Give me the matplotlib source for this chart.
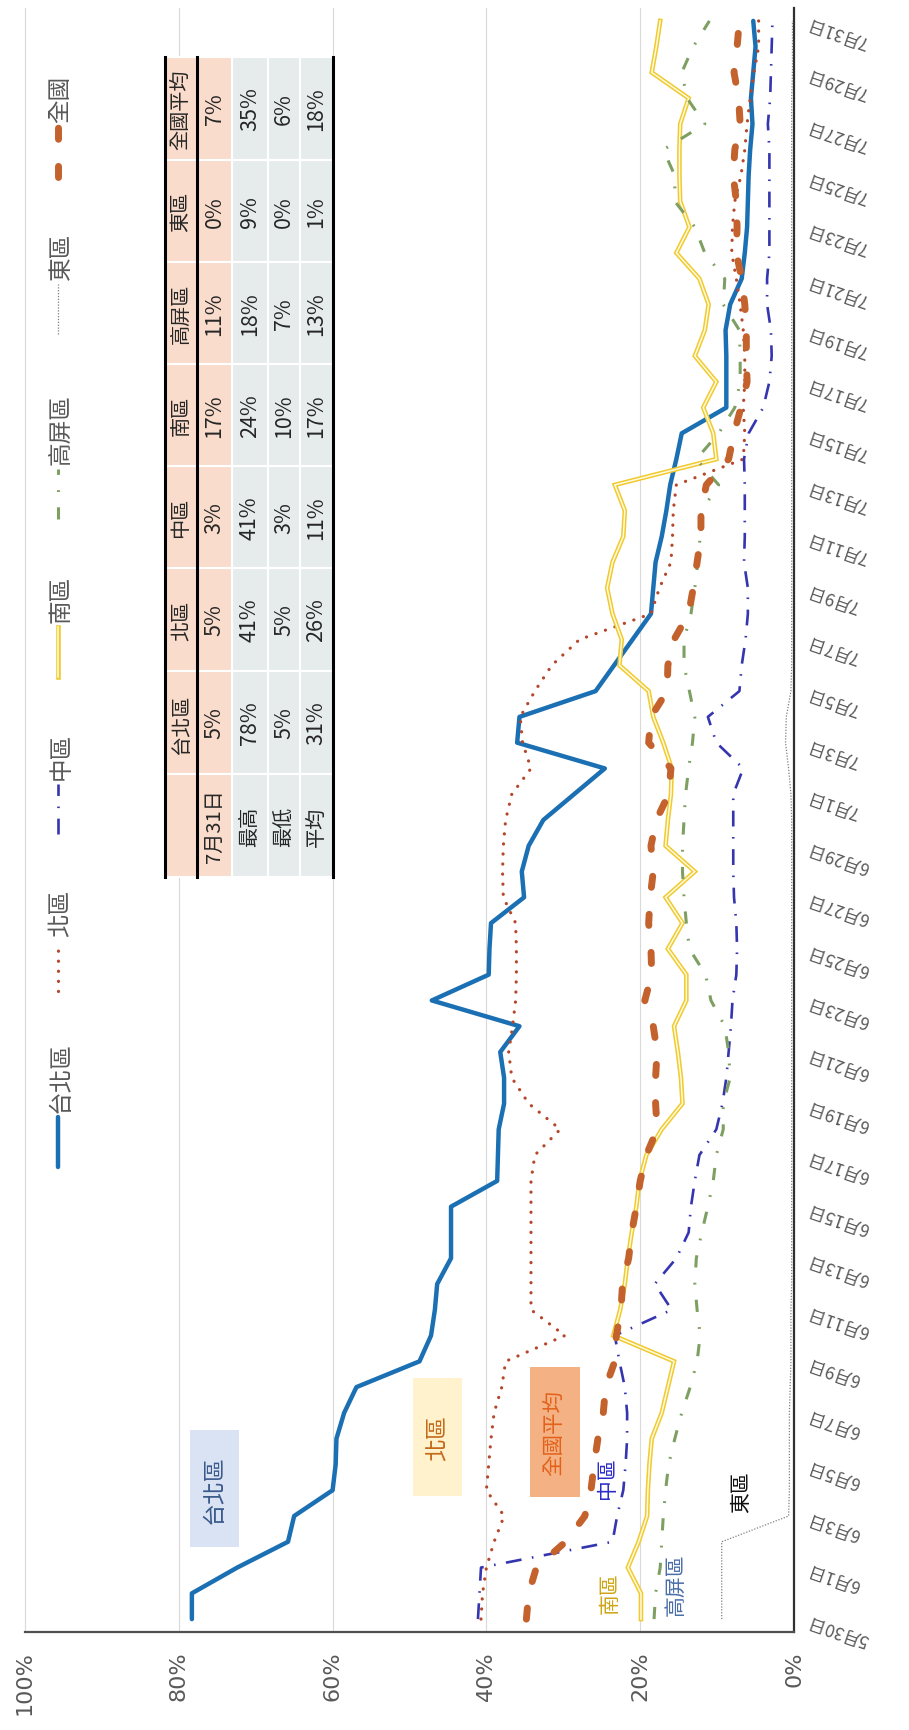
import numpy as np
import pandas as pd
import matplotlib
matplotlib.use('Agg')
import matplotlib.pyplot as plt
from matplotlib.patches import Rectangle
from matplotlib.lines import Line2D

plt.rcParams['font.family'] = ['Noto Sans CJK TC', 'DejaVu Sans']

# ---------------- data ----------------
DATES = pd.date_range('2020-05-30', '2020-07-31', freq='D')
DATE_TICK_LABELS = ['5月30日', '6月1日', '6月3日', '6月5日', '6月7日', '6月9日', '6月11日',
                    '6月13日', '6月15日', '6月17日', '6月19日', '6月21日', '6月23日',
                    '6月25日', '6月27日', '6月29日', '7月1日', '7月3日', '7月5日', '7月7日',
                    '7月9日', '7月11日', '7月13日', '7月15日', '7月17日', '7月19日',
                    '7月21日', '7月23日', '7月25日', '7月27日', '7月29日', '7月31日']
VALUE_TICKS = [0.0, 0.2, 0.4, 0.6, 0.8, 1.0]
VALUE_TICK_LABELS = ['0%', '20%', '40%', '60%', '80%', '100%']

SERIES_NAMES = ['台北區', '北區', '中區', '南區', '高屏區', '東區', '全國']

TAIPEI = [0.783, 0.783, 0.724, 0.658, 0.650, 0.600, 0.596, 0.595, 0.585, 0.569,
          0.487, 0.472, 0.467, 0.464, 0.446, 0.446, 0.446, 0.386, 0.385, 0.384,
          0.377, 0.377, 0.382, 0.357, 0.471, 0.397, 0.396, 0.394, 0.351, 0.354,
          0.345, 0.326, 0.286, 0.246, 0.360, 0.357, 0.258, 0.234, 0.210, 0.186,
          0.183, 0.180, 0.172, 0.166, 0.161, 0.153, 0.146, 0.088, 0.088, 0.088,
          0.089, 0.083, 0.068, 0.064, 0.061, 0.060, 0.059, 0.057, 0.054, 0.056,
          0.053, 0.050, 0.053]
NORTH = [0.407, 0.405, 0.400, 0.390, 0.377, 0.400, 0.397, 0.394, 0.390, 0.380,
         0.375, 0.298, 0.342, 0.342, 0.342, 0.342, 0.342, 0.342, 0.337, 0.304,
         0.345, 0.367, 0.371, 0.366, 0.362, 0.361, 0.361, 0.362, 0.378, 0.379,
         0.378, 0.375, 0.367, 0.342, 0.353, 0.356, 0.337, 0.315, 0.279, 0.186,
         0.175, 0.160, 0.158, 0.157, 0.153, 0.066, 0.064, 0.066, 0.064, 0.064,
         0.066, 0.070, 0.075, 0.081, 0.080, 0.077, 0.069, 0.064, 0.061, 0.057,
         0.052, 0.046, 0.046]
CENTRAL = [0.411, 0.409, 0.407, 0.236, 0.230, 0.222, 0.219, 0.217, 0.217, 0.220,
           0.227, 0.233, 0.159, 0.181, 0.153, 0.137, 0.134, 0.129, 0.123, 0.101,
           0.093, 0.088, 0.085, 0.082, 0.080, 0.075, 0.074, 0.075, 0.078, 0.079,
           0.079, 0.079, 0.079, 0.066, 0.101, 0.112, 0.071, 0.068, 0.063, 0.060,
           0.060, 0.065, 0.064, 0.064, 0.064, 0.065, 0.059, 0.040, 0.032, 0.029,
           0.030, 0.035, 0.035, 0.032, 0.032, 0.032, 0.032, 0.032, 0.034, 0.031,
           0.030, 0.029, 0.028]
SOUTH = [0.199, 0.199, 0.216, 0.202, 0.191, 0.190, 0.188, 0.185, 0.172, 0.164,
         0.156, 0.235, 0.226, 0.220, 0.216, 0.211, 0.205, 0.201, 0.192, 0.172,
         0.145, 0.147, 0.151, 0.156, 0.140, 0.140, 0.164, 0.145, 0.167, 0.129,
         0.167, 0.164, 0.160, 0.159, 0.170, 0.183, 0.189, 0.227, 0.224, 0.236,
         0.243, 0.236, 0.222, 0.220, 0.233, 0.101, 0.105, 0.118, 0.101, 0.129,
         0.116, 0.111, 0.123, 0.153, 0.136, 0.148, 0.149, 0.149, 0.148, 0.137,
         0.185, 0.179, 0.174]
KAOPING = [0.182, 0.180, 0.174, 0.172, 0.170, 0.167, 0.163, 0.155, 0.146, 0.135,
           0.126, 0.122, 0.126, 0.129, 0.127, 0.120, 0.112, 0.105, 0.101, 0.092,
           0.092, 0.083, 0.085, 0.090, 0.108, 0.115, 0.136, 0.140, 0.143, 0.145,
           0.145, 0.143, 0.141, 0.137, 0.132, 0.129, 0.136, 0.143, 0.143, 0.134,
           0.129, 0.125, 0.122, 0.120, 0.098, 0.127, 0.098, 0.077, 0.070, 0.070,
           0.071, 0.092, 0.090, 0.116, 0.129, 0.155, 0.155, 0.170, 0.116, 0.139,
           0.146, 0.131, 0.110]
EAST = [0.094, 0.094, 0.094, 0.094, 0.007, 0.006, 0.006, 0.006, 0.006, 0.005,
        0.004, 0.004, 0.004, 0.003, 0.003, 0.003, 0.003, 0.003, 0.003, 0.003,
        0.003, 0.003, 0.003, 0.003, 0.003, 0.003, 0.003, 0.003, 0.003, 0.003,
        0.003, 0.003, 0.004, 0.007, 0.011, 0.010, 0.004, 0.003, 0.003, 0.003,
        0.003, 0.003, 0.003, 0.003, 0.003, 0.003, 0.003, 0.003, 0.003, 0.003,
        0.003, 0.003, 0.003, 0.003, 0.003, 0.003, 0.003, 0.003, 0.003, 0.003,
        0.002, 0.002, 0.002]
NATIONAL = [0.348, 0.345, 0.335, 0.297, 0.272, 0.264, 0.260, 0.255, 0.248, 0.245,
            0.233, 0.231, 0.225, 0.223, 0.215, 0.211, 0.205, 0.200, 0.192, 0.178,
            0.180, 0.180, 0.178, 0.183, 0.194, 0.185, 0.186, 0.189, 0.187, 0.183,
            0.186, 0.179, 0.163, 0.160, 0.189, 0.186, 0.165, 0.164, 0.156, 0.137,
            0.131, 0.126, 0.121, 0.121, 0.114, 0.085, 0.078, 0.069, 0.061, 0.062,
            0.062, 0.064, 0.068, 0.075, 0.074, 0.075, 0.079, 0.077, 0.070, 0.072,
            0.078, 0.074, 0.071]

TABLE_COLS = ['台北區', '北區', '中區', '南區', '高屏區', '東區', '全國平均']
TABLE_ROWS = ['7月31日', '最高', '最低', '平均']
TABLE_VALUES = [['5%', '5%', '3%', '17%', '11%', '0%', '7%'],
                ['78%', '41%', '41%', '24%', '18%', '9%', '35%'],
                ['5%', '5%', '3%', '10%', '7%', '0%', '6%'],
                ['31%', '26%', '11%', '17%', '13%', '1%', '18%']]

# ---------------- figure ----------------
W, H = 909, 1731
fig = plt.figure(figsize=(W / 100, H / 100), dpi=100)
fig.patch.set_facecolor('white')


def fx(x):
    return x / W


def fy(y):
    return 1 - y / H


AX_L, AX_R, AX_T, AX_B = 25, 794, 9, 1633
ax = fig.add_axes([fx(AX_L), fy(AX_B), (AX_R - AX_L) / W, (AX_B - AX_T) / H])
days = np.asarray((DATES - DATES[0]).days)
ax.set_xlim(1.0, 0.0)
ax.set_ylim(-0.5, len(DATES) - 0.5)

for v in VALUE_TICKS[1:-1]:
    ax.axvline(v, color='#D9D9D9', lw=0.8, zorder=0)

ax.spines['top'].set_visible(False)
ax.spines['left'].set_color('#D9D9D9')
ax.spines['left'].set_linewidth(0.8)
ax.spines['bottom'].set_color('#505050')
ax.spines['bottom'].set_linewidth(1.6)
ax.spines['right'].set_color('#303030')
ax.spines['right'].set_linewidth(1.6)

ax.set_xticks(VALUE_TICKS)
ax.set_xticklabels(VALUE_TICK_LABELS, rotation=90, fontsize=16, color='#595959',
                   family=['DejaVu Sans'])
ax.tick_params(axis='x', length=0, pad=13)

ax.yaxis.tick_right()
ax.set_yticks(days[::2])
ax.set_yticklabels(DATE_TICK_LABELS, rotation=161, rotation_mode='anchor',
                   ha='right', va='center', fontsize=12.5, color='#595959')
ax.tick_params(axis='y', length=0, pad=10)

# series styles
C_TAIPEI = '#1B6FB3'
C_NORTH = '#B5472B'
C_CENTRAL = '#3535B0'
C_SOUTH = '#F0CA2E'
C_SOUTH_IN = '#FFFBE3'
C_KAOPING = '#7E9F62'
C_EAST = '#7F7F7F'
C_NATIONAL = '#C4622D'

STYLES = [
    dict(color=C_TAIPEI, lw=3.2, solid_joinstyle='round', solid_capstyle='round'),
    dict(color=C_NORTH, lw=2.3, linestyle=(0, (0.05, 3.1)), dash_capstyle='round'),
    dict(color=C_CENTRAL, lw=1.9, linestyle=(0, (6, 4, 0.6, 4))),
    dict(color=C_SOUTH, lw=3.3, solid_joinstyle='miter'),
    dict(color=C_KAOPING, lw=2.2, linestyle=(0, (4, 5, 0.6, 5))),
    dict(color=C_EAST, lw=0.9, linestyle=(0, (1, 1.3))),
    dict(color=C_NATIONAL, lw=5.0, linestyle=(0, (1.6, 3.9)), dash_capstyle='round'),
]
SERIES = [TAIPEI, NORTH, CENTRAL, SOUTH, KAOPING, EAST, NATIONAL]

for i, (vals, st) in enumerate(zip(SERIES, STYLES)):
    ax.plot(vals, days, zorder=3 + i, **st)
    if i == 3:
        ax.plot(vals, days, color=C_SOUTH_IN, lw=1.1, zorder=3 + i,
                solid_joinstyle='miter')

# ---------------- legend (manual, rotated) ----------------
LEG_BOTTOMS = [1168, 992, 835, 678, 520, 335, 178]
LEG_X = 58
for name, st, yb, i in zip(SERIES_NAMES, STYLES, LEG_BOTTOMS, range(7)):
    kw = dict(st)
    kw.pop('solid_joinstyle', None)
    ln = Line2D([fx(LEG_X), fx(LEG_X)], [fy(yb), fy(yb - 50)], transform=fig.transFigure, **kw)
    fig.add_artist(ln)
    if i == 3:
        fig.add_artist(Line2D([fx(LEG_X), fx(LEG_X)], [fy(yb), fy(yb - 50)],
                              transform=fig.transFigure, color=C_SOUTH_IN, lw=1.1))
    fig.text(fx(61), fy(yb - 55), name, rotation=90, rotation_mode='anchor',
             ha='left', va='center', fontsize=17, color='#595959')

# ---------------- table (rotated) ----------------
TX = [165, 197, 232, 268, 300, 333]            # header | 7/31 | 最高 | 最低 | 平均
TY = [878, 775, 672, 569, 467, 365, 263, 161, 58]  # label col, then region cols upward
ROW_BG = ['#F9DCCB', '#F9DCCB', '#E6ECEC', '#E6ECEC', '#E6ECEC']
for r in range(5):
    for c in range(8):
        x0, x1 = TX[r], TX[r + 1]
        y0, y1 = TY[c + 1], TY[c]
        fig.add_artist(Rectangle((fx(x0), fy(y1)), (x1 - x0) / W, (y1 - y0) / H,
                                 transform=fig.transFigure, facecolor=ROW_BG[r],
                                 edgecolor='white', lw=1.5))
for xb in (TX[0], TX[1], TX[-1]):
    fig.add_artist(Line2D([fx(xb), fx(xb)], [fy(TY[0]), fy(TY[-1])],
                          transform=fig.transFigure, color='black', lw=2.2))


def cell_text(r, c, s, fs=15):
    xc = (TX[r] + TX[r + 1]) / 2
    yc = (TY[c] + TY[c + 1]) / 2
    fig.text(fx(xc), fy(yc), s, rotation=90, rotation_mode='anchor',
             ha='center', va='center', fontsize=fs, color='#262626')


for c, name in enumerate(TABLE_COLS):
    cell_text(0, c + 1, name, 14.5)
for r, rname in enumerate(TABLE_ROWS):
    cell_text(r + 1, 0, rname, 14.5)
    for c, val in enumerate(TABLE_VALUES[r]):
        cell_text(r + 1, c + 1, val, 15.5)

# ---------------- annotations ----------------
BOXES = [('台北區', (190, 1431, 239, 1548), '#DAE3F3', '#3A5A8C', 16.5),
         ('北區', (413, 1379, 462, 1497), '#FFF2CC', '#C46A1A', 16.5),
         ('全國平均', (530, 1368, 580, 1498), '#F4B183', '#E2621B', 15.5)]
for s, (x0, y0, x1, y1), fc, tc, fs in BOXES:
    fig.add_artist(Rectangle((fx(x0), fy(y1)), (x1 - x0) / W, (y1 - y0) / H,
                             transform=fig.transFigure, facecolor=fc, edgecolor='none'))
    fig.text(fx((x0 + x1) / 2), fy((y0 + y1) / 2), s, rotation=90, rotation_mode='anchor',
             ha='center', va='center', fontsize=fs, color=tc)

LABELS = [('中區', 607, 1478, '#2B2BC8'), ('南區', 610, 1593, '#CFA514'),
          ('高屏區', 676, 1585, '#4A6EA8'), ('東區', 741, 1492, '#111111')]
for s, x, y, c in LABELS:
    fig.text(fx(x), fy(y), s, rotation=90, rotation_mode='anchor',
             ha='center', va='center', fontsize=15, color=c)

fig.savefig('out.png', dpi=100)
